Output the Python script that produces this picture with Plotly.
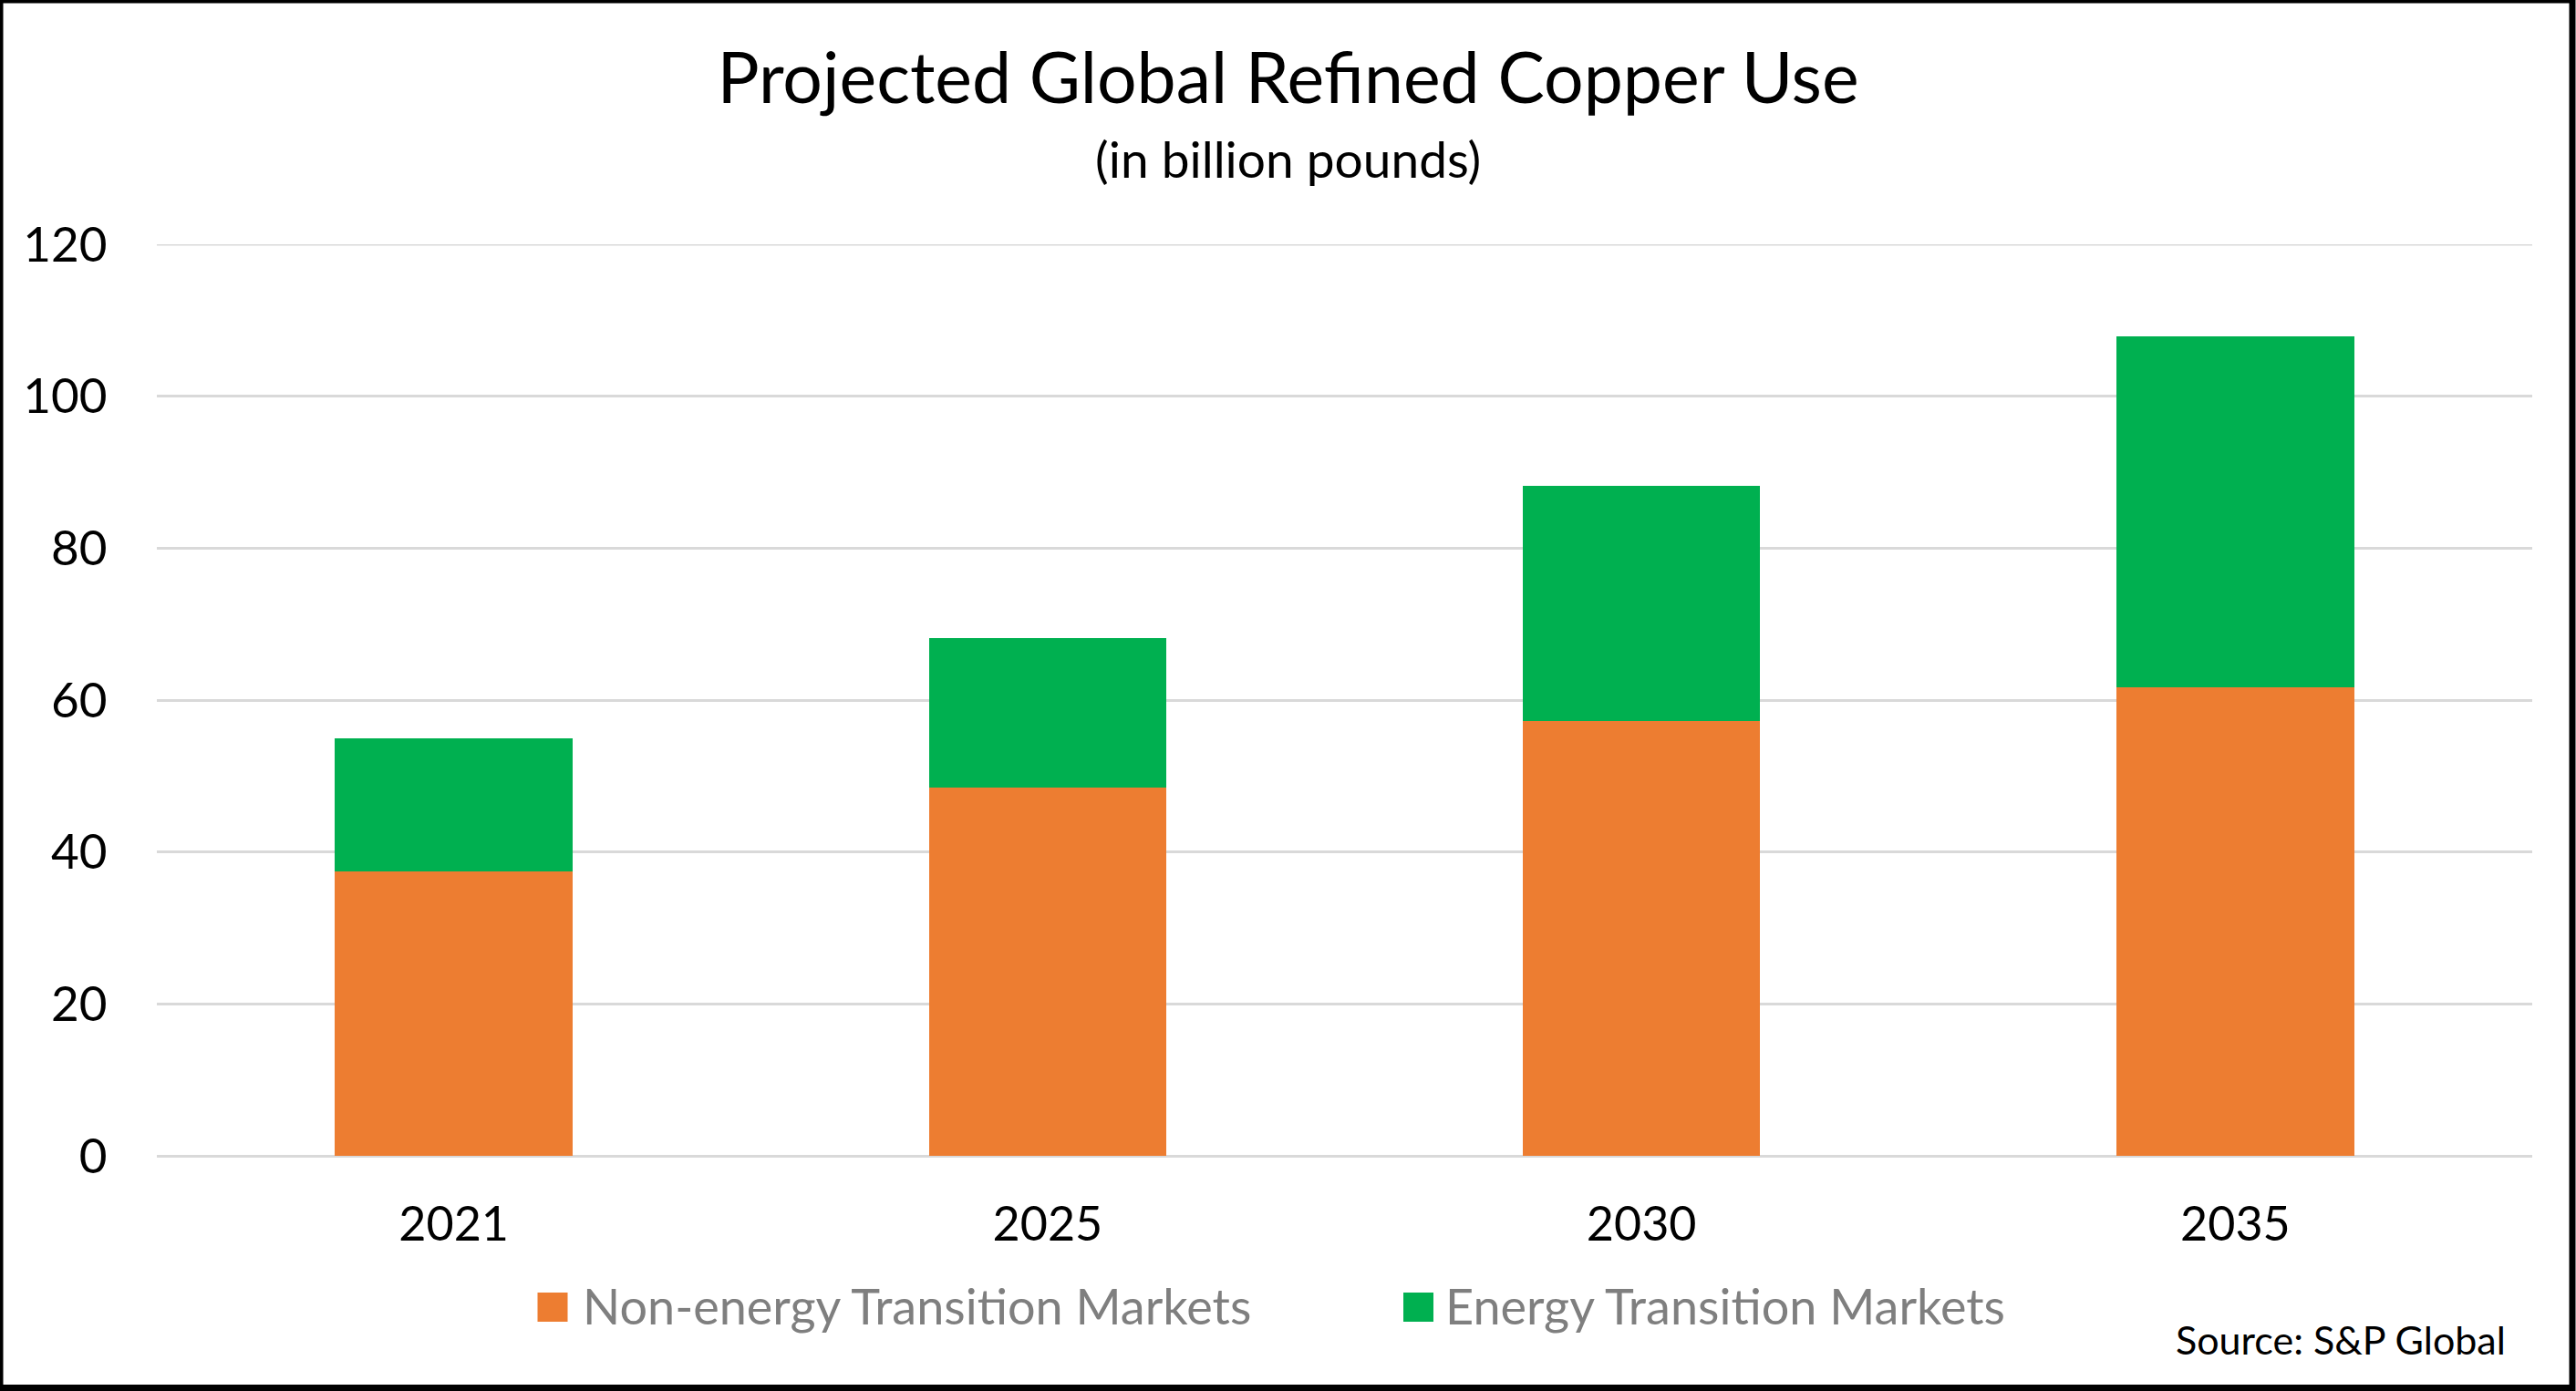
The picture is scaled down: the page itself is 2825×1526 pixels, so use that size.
import plotly.graph_objects as go

# ---- data ----
years = ["2021", "2025", "2030", "2035"]
non_energy = [37.5, 48.5, 57.2, 61.7]
energy = [17.5, 19.7, 31.0, 46.2]
series_names = ["Non-energy Transition Markets", "Energy Transition Markets"]
series_colors = ["#ED7D31", "#00B050"]
y_ticks = [0, 20, 40, 60, 80, 100, 120]

title_text = "Projected Global Refined Copper Use"
subtitle_text = "(in billion pounds)"
source_text = "Source: S&P Global"

FONT = "Lato"
W, H = 2825, 1526
L, R, T, B = 172, 48, 268, 258
PW = W - L - R
PH = H - T - B
GRID = "#D9D9D9"


def px_x(px):
    return (px - L) / PW


def px_y(py):
    return (H - B - py) / PH


fig = go.Figure()
for name, vals, col in zip(series_names, [non_energy, energy], series_colors):
    fig.add_trace(go.Bar(x=years, y=vals, name=name, marker_color=col,
                         marker_line_width=0, showlegend=False))

fig.update_layout(
    width=W, height=H,
    margin=dict(l=L, r=R, t=T, b=B),
    barmode="stack", bargap=0.6,
    paper_bgcolor="white", plot_bgcolor="white",
    font=dict(family=FONT, color="black"),
    title=dict(text=title_text, x=0.5, xref="container", xanchor="center",
               y=1 - 86 / H, yref="container", yanchor="middle",
               font=dict(family=FONT, size=77, color="black")),
)
fig.update_xaxes(type="category", showgrid=False, showline=False, zeroline=False,
                 ticks="outside", ticklen=30, tickcolor="rgba(0,0,0,0)",
                 tickfont=dict(family=FONT, size=52, color="black"))
fig.update_yaxes(range=[y_ticks[0], y_ticks[-1]], tickvals=y_ticks, showgrid=True,
                 gridcolor=GRID, gridwidth=3,
                 zeroline=True, zerolinecolor=GRID, zerolinewidth=3,
                 showline=False, ticks="outside", ticklen=43,
                 tickcolor="rgba(0,0,0,0)",
                 tickfont=dict(family=FONT, size=53, color="black"))

# top gridline (plotly skips the gridline at the range edge)
fig.add_shape(type="line", xref="paper", yref="y", x0=0, x1=1,
              y0=y_ticks[-1], y1=y_ticks[-1], line=dict(color=GRID, width=3),
              layer="below")

# subtitle
fig.add_annotation(text=subtitle_text, xref="paper", yref="paper",
                   x=px_x(1412.5), y=px_y(174), xanchor="center", yanchor="middle",
                   showarrow=False, font=dict(family=FONT, size=55, color="black"))

# legend (manual, large square swatches)
sw_left = [589.5, 1539]
txt_left = [640, 1586]
for name, col, sx, tx in zip(series_names, series_colors, sw_left, txt_left):
    fig.add_shape(type="rect", xref="paper", yref="paper",
                  x0=px_x(sx), x1=px_x(sx + 33), y0=px_y(1450), y1=px_y(1418),
                  fillcolor=col, line_width=0)
    fig.add_annotation(text=name, xref="paper", yref="paper",
                       x=px_x(tx - 3), y=px_y(1432), xanchor="left", yanchor="middle",
                       showarrow=False, font=dict(family=FONT, size=54, color="#7F7F7F"))

# source
fig.add_annotation(text=source_text, xref="paper", yref="paper",
                   x=px_x(2750), y=px_y(1469), xanchor="right", yanchor="middle",
                   showarrow=False, font=dict(family=FONT, size=43, color="black"))

# outer border
fig.add_shape(type="rect", xref="paper", yref="paper",
              x0=px_x(0), x1=px_x(2821), y0=px_y(1522.5), y1=px_y(0),
              line=dict(color="black", width=7), fillcolor="rgba(0,0,0,0)")

fig.write_html("out.html", config={"displayModeBar": False},
               post_script="document.body.style.margin='0';")
